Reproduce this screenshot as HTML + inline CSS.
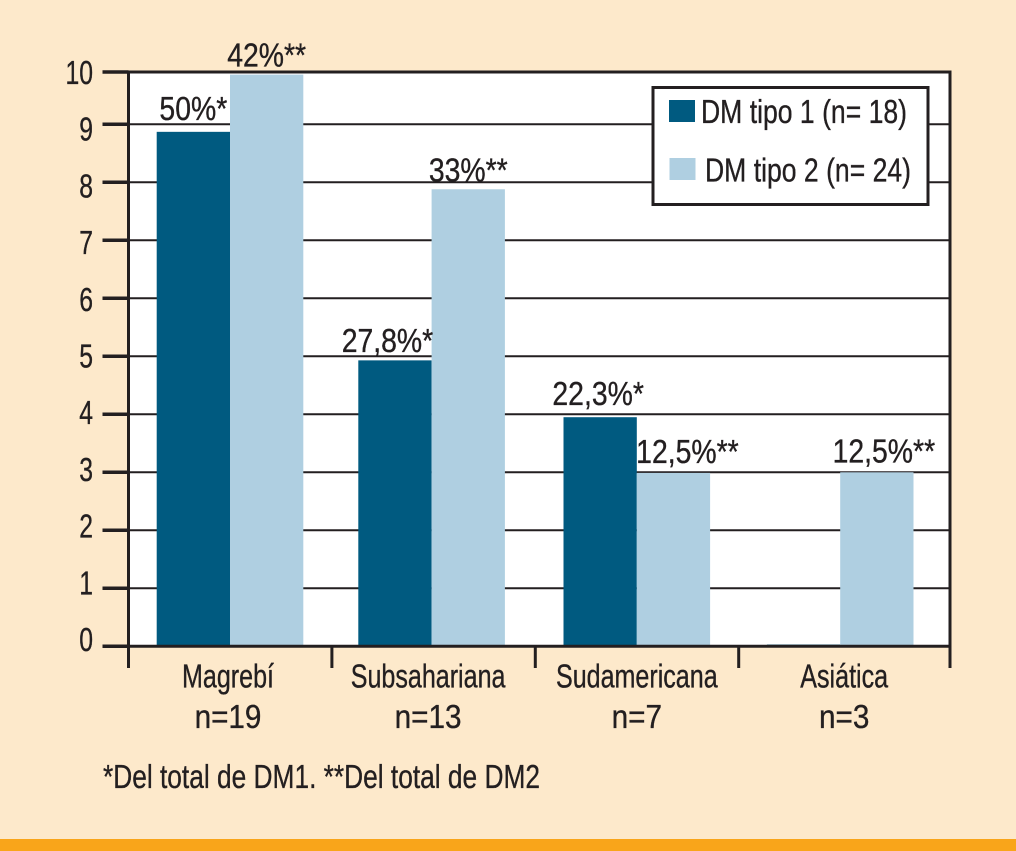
<!DOCTYPE html>
<html lang="es">
<head>
<meta charset="utf-8">
<title>DM tipo 1 y tipo 2 por origen</title>
<style>
  html, body { margin: 0; padding: 0; background: #fde9cb; }
  body { width: 1016px; height: 851px; overflow: hidden; }
  svg { display: block; }
  text { font-family: "Liberation Sans", sans-serif; font-size: 33px; fill: #231f20; stroke: #231f20; stroke-width: 0.35px; }
</style>
</head>
<body>
<svg id="chart" width="1016" height="851" viewBox="0 0 1016 851" xmlns="http://www.w3.org/2000/svg">
  <rect x="0" y="0" width="1016" height="851" fill="#fde9cb"/>
  <rect x="0" y="839" width="1016" height="12" fill="#f9a51a"/>
  <rect x="128.5" y="72" width="821.5" height="574.3" fill="#ffffff"/>
  <g id="grid"></g>
  <g id="bars"></g>
  <g id="frame">
    <line x1="128.5" y1="72" x2="951.5" y2="72" stroke="#231f20" stroke-width="3"/>
    <line x1="128.5" y1="72" x2="128.5" y2="668" stroke="#231f20" stroke-width="3"/>
    <line x1="950" y1="72" x2="950" y2="668" stroke="#231f20" stroke-width="3"/>
    <line x1="128.5" y1="646.3" x2="950" y2="646.3" stroke="#231f20" stroke-width="3"/>
  </g>
  <g id="axes"></g>
  <g id="labels"></g>
  <g>
    <rect x="653" y="87.5" width="275" height="117" fill="#ffffff" stroke="#231f20" stroke-width="3"/>
    <rect x="669" y="100" width="26" height="22" fill="#005a80"/>
    <text x="701" y="123" textLength="206" lengthAdjust="spacingAndGlyphs">DM tipo 1 (n= 18)</text>
    <rect x="669.5" y="158" width="26" height="22" fill="#afcfe1"/>
    <text x="705" y="181.5" textLength="206" lengthAdjust="spacingAndGlyphs">DM tipo 2 (n= 24)</text>
  </g>
  <text x="103" y="788" textLength="437" lengthAdjust="spacingAndGlyphs">*Del total de DM1. **Del total de DM2</text>
</svg>
<script>
const categories = ["Magrebí", "Subsahariana", "Sudamericana", "Asiática"];
const categoryCounts = ["n=19", "n=13", "n=7", "n=3"];
const dm1Values = [8.87, 4.93, 3.95, 0.03];
const dm2Values = [9.95, 7.88, 2.99, 3];
const dm1Labels = ["50%*", "27,8%*", "22,3%*", ""];
const dm2Labels = ["42%**", "33%**", "12,5%**", "12,5%**"];
const yTicks = [0, 1, 2, 3, 4, 5, 6, 7, 8, 9, 10];

const NS = "http://www.w3.org/2000/svg";
const INK = "#231f20";
const TICK_SCALE = 0.75;
const CAT_SCALE = 0.76;
const COUNT_SCALE = 0.9;
const VALUE_SCALE = 0.86;

// The source chart's top interval is shorter than the others.
function yScale(v) {
  return v <= 9 ? 646.3 - 58 * v : 124.3 - 52.3 * (v - 9);
}
// Tick labels in the source sit on their own even spacing.
function yLabelBaseline(v) {
  return 651 - 56.7 * v;
}
const band = 203.4;
const barWidth = 73.3;
function xBar(i, s) {
  const shift = i === 1 ? -1.8 : 0;
  return 156.7 + band * i + barWidth * s + shift;
}
function xTick(i) {
  return i === categories.length ? 950 : 128.5 + band * i;
}

function svgLine(x1, y1, x2, y2, w) {
  const el = document.createElementNS(NS, "line");
  el.setAttribute("x1", x1);
  el.setAttribute("y1", y1);
  el.setAttribute("x2", x2);
  el.setAttribute("y2", y2);
  el.setAttribute("stroke", INK);
  el.setAttribute("stroke-width", w);
  return el;
}
function svgText(str, x, y, anchor, scale) {
  const el = document.createElementNS(NS, "text");
  el.textContent = str;
  el.setAttribute("text-anchor", anchor);
  el.setAttribute("transform", "translate(" + x + " " + y + ") scale(" + scale + " 1)");
  return el;
}
function svgBar(x, top, fill) {
  const el = document.createElementNS(NS, "rect");
  el.setAttribute("x", x);
  el.setAttribute("y", top);
  el.setAttribute("width", barWidth);
  el.setAttribute("height", yScale(0) - top);
  el.setAttribute("fill", fill);
  return el;
}

const gridG = document.getElementById("grid");
const axesG = document.getElementById("axes");
const barsG = document.getElementById("bars");
const labelsG = document.getElementById("labels");

yTicks.forEach(function (t) {
  const y = yScale(t);
  if (t > 0 && t < 10) {
    const g = svgLine(128.5, y, 950, y, 2);
    
    
    gridG.appendChild(g);
  }
  const tick = svgLine(102.5, y, 128.5, y, 3.5);
  
  
  axesG.appendChild(tick);
  const lab = svgText(String(t), 93, yLabelBaseline(t), "end", TICK_SCALE);
  
  
  axesG.appendChild(lab);
});

for (let i = 0; i <= categories.length; i++) {
  const tick = svgLine(xTick(i), 646.3, xTick(i), 668, 3);
  
  
  axesG.appendChild(tick);
}

categories.forEach(function (name, i) {
  const b1 = svgBar(xBar(i, 0), yScale(dm1Values[i]), "#005a80");
  
  
  barsG.appendChild(b1);
  const b2 = svgBar(xBar(i, 1), yScale(dm2Values[i]), "#afcfe1");
  
  
  barsG.appendChild(b2);

  const nudgeCat = i === 3 ? 4 : (i === 1 ? -3.5 : (i === 0 ? -2 : 0));
  const cx = xBar(i, 1) + nudgeCat;
  const catLabel = svgText(name, cx, 687.5, "middle", CAT_SCALE);
  
  
  axesG.appendChild(catLabel);
  const cntLabel = svgText(categoryCounts[i], cx, 728, "middle", COUNT_SCALE);
  
  
  axesG.appendChild(cntLabel);

  if (dm1Labels[i]) {
    const nudge1 = i === 1 ? -7.5 : (i === 2 ? -2 : 0);
    const lift1 = i === 1 ? 8.5 : 12;
    const l1 = svgText(dm1Labels[i], xBar(i, 0.5) + nudge1, yScale(dm1Values[i]) - lift1, "middle", VALUE_SCALE);
    
    
    labelsG.appendChild(l1);
  }
  const nudge2 = i === 2 ? 14 : (i === 3 ? 7 : 0);
  const lift2 = i >= 2 ? 10 : 8;
  const l2 = svgText(dm2Labels[i], xBar(i, 1.5) + nudge2, yScale(dm2Values[i]) - lift2, "middle", VALUE_SCALE);
  
  
  labelsG.appendChild(l2);
});
</script>
</body>
</html>
